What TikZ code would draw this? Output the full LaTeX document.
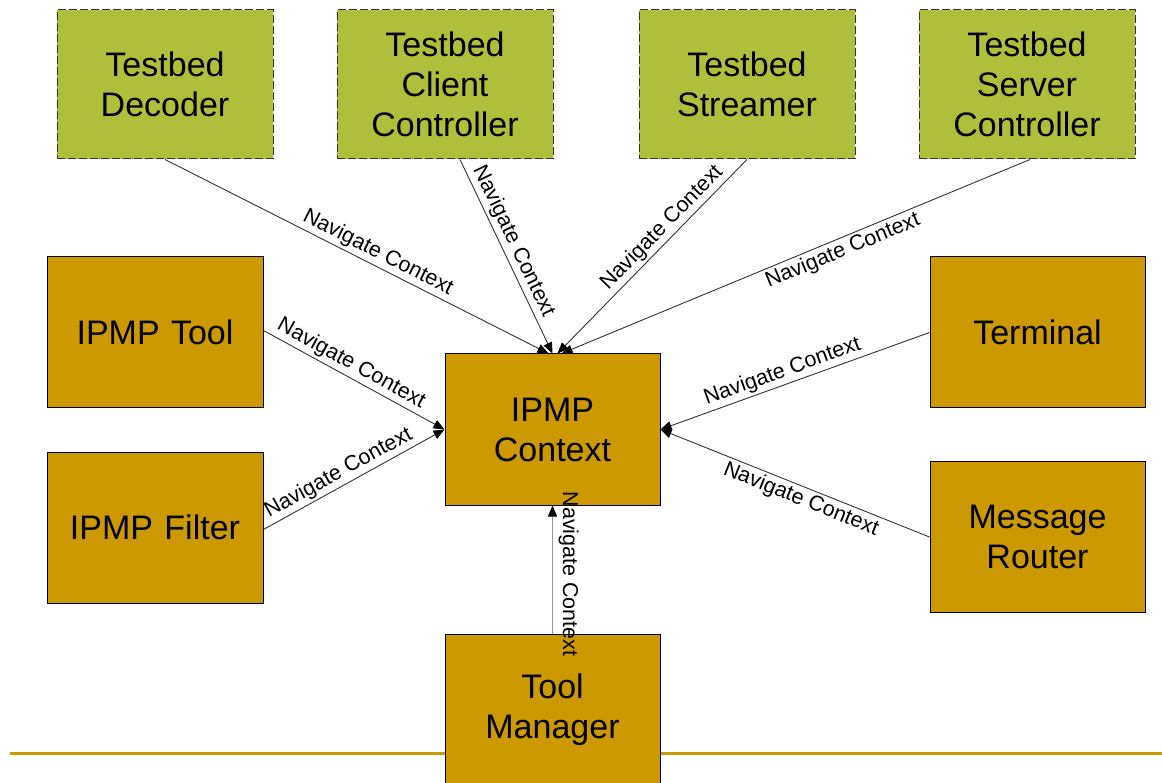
\documentclass[tikz,border=0pt]{standalone}
\usepackage{fontspec}
\setmainfont{Liberation Sans}
\usetikzlibrary{arrows.meta}
\definecolor{testgreen}{HTML}{AFBF3B}
\definecolor{ipmpgold}{HTML}{CC9900}
\definecolor{wire}{HTML}{333333}
\definecolor{wiregrey}{HTML}{999999}
\tikzset{
  testbox/.style={draw=wire, line width=1pt, dash pattern=on 8pt off 3pt,
    fill=testgreen, minimum width=216pt, minimum height=149pt,
    text width=200pt, align=center, inner sep=0pt,
    font=\fontsize{34}{40}\selectfont},
  ipmpbox/.style={draw=black, line width=1pt, fill=ipmpgold,
    minimum width=216pt, minimum height=151pt,
    text width=200pt, align=center, inner sep=0pt,
    font=\fontsize{34}{40}\selectfont},
  navlink/.style={draw=wire, line width=0.9pt,
    -{Triangle[length=11pt,width=9pt,color=black]}},
  navlabel/.style={sloped, inner sep=2.5pt, font=\fontsize{21.5}{24}\selectfont}
}
\begin{document}
\begin{tikzpicture}[x=1pt,y=-1pt]
\useasboundingbox (0,0) rectangle (1162,783);

% footer rule
\draw[ipmpgold, line width=3pt] (10,753) -- (1162,753);

% testbed components
\node[testbox] (dec) at (165,84.5) {Testbed\\Decoder};
\node[testbox] (cli) at (445,84.5) {Testbed\\Client\\Controller};
\node[testbox] (str) at (747,84.5) {Testbed\\Streamer};
\node[testbox] (srv) at (1027,84.5) {Testbed\\Server\\Controller};

% IPMP components
\node[ipmpbox] (tool) at (155,332.5) {IPMP Tool};
\node[ipmpbox] (filt) at (155,527.5) {IPMP Filter};
\node[ipmpbox, minimum width=215pt] (ctx) at (552.5,429.5) {IPMP\\Context};
\node[ipmpbox, minimum width=215pt] (term) at (1037.5,332.5) {Terminal};
\node[ipmpbox, minimum width=215pt] (rout) at (1037.5,537) {Message\\Router};
\node[ipmpbox, minimum width=215pt] (mgr) at (552.5,709.5) {Tool\\Manager};

% context navigation links
\draw[navlink] (dec.south) -- node[navlabel, pos=0.54, above] {Navigate Context} ([xshift=-4pt]ctx.north);
\draw[navlink] ([xshift=15pt]cli.south) -- node[navlabel, pos=0.45, above] {Navigate Context} ([xshift=0pt]ctx.north);
\draw[navlink] (str.south) -- node[navlabel, pos=0.4, above] {Navigate Context} ([xshift=5pt]ctx.north);
\draw[navlink] ([xshift=3pt]srv.south) -- node[navlabel, pos=0.41, below] {Navigate Context} ([xshift=9pt]ctx.north);

\draw[navlink] ([yshift=2pt]tool.east) -- node[navlabel, pos=0.45, above] {Navigate Context} (ctx.west);
\draw[navlink] ([yshift=-2pt]filt.east) -- node[navlabel, pos=0.45, above] {Navigate Context} (ctx.west);
\draw[navlink] (term.west) -- node[navlabel, pos=0.53, above] {Navigate Context} (ctx.east);
\draw[navlink] (rout.west) -- node[navlabel, pos=0.46, below] {Navigate Context} (ctx.east);

\draw[navlink, draw=wiregrey] (mgr.north) -- (ctx.south);
\node[rotate=-90, anchor=south, inner sep=6pt, font=\fontsize{21.5}{24}\selectfont]
  (mgrlabel) at (552.5,574) {Navigate Context};
\end{tikzpicture}
\end{document}
